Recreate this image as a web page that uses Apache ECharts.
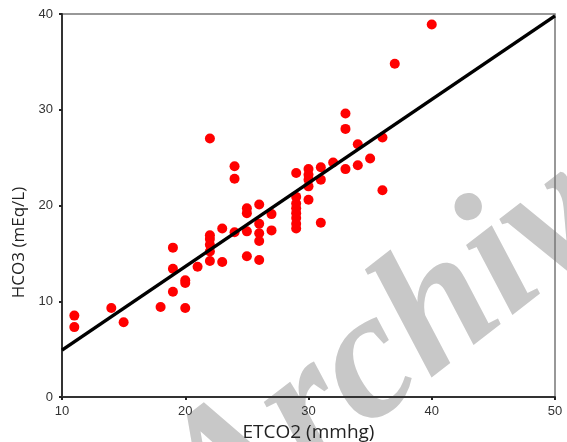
<!DOCTYPE html>
<html>
<head>
<meta charset="utf-8">
<script src="https://cdn.jsdelivr.net/npm/echarts@6/dist/echarts.min.js"></script>
<style>
  html, body { margin: 0; padding: 0; background: #fff; }
  #chart { width: 567px; height: 442px; }
</style>
</head>
<body>
<div id="chart"></div>
<script>
// ETCO2 (x) vs HCO3 (y) readings
const etco2 = [
  11, 11, 14, 15, 18,
  19, 19, 19, 20, 20, 20, 21,
  22, 22, 22, 22, 22, 22,
  23, 23, 24, 24, 24,
  25, 25, 25, 25,
  26, 26, 26, 26, 26,
  27, 27,
  29, 29, 29, 29, 29, 29, 29, 29,
  30, 30, 30, 30, 30,
  31, 31, 31, 32,
  33, 33, 33, 34, 34, 35, 36, 36, 37, 40
];
const hco3 = [
  8.5, 7.3, 9.3, 7.8, 9.4,
  15.6, 13.4, 11.0, 12.2, 11.9, 9.3, 13.6,
  27.0, 16.9, 16.5, 15.9, 15.2, 14.2,
  17.6, 14.1, 24.1, 22.8, 17.2,
  19.7, 19.2, 17.3, 14.7,
  20.1, 18.1, 17.1, 16.3, 14.3,
  19.1, 17.4,
  23.4, 20.9, 20.2, 19.7, 19.2, 18.7, 18.1, 17.6,
  23.8, 23.2, 22.7, 22.0, 20.6,
  24.0, 22.7, 18.2, 24.5,
  29.6, 28.0, 23.8, 26.4, 24.2, 24.9, 27.1, 21.6, 34.8, 38.9
];
// fitted line end points
const fitX = [10, 50];
const fitY = [4.9, 39.8];

const chart = echarts.init(document.getElementById('chart'));

const option = {
  animation: false,
  grid: {
    left: 62, right: 12, top: 14, bottom: 45,
    containLabel: false,
    outerBoundsMode: 'none',
    show: true,
    borderColor: '#777',
    borderWidth: 1.5
  },
  xAxis: {
    type: 'value',
    min: 10, max: 50, interval: 10,
    name: 'ETCO2 (mmhg)',
    nameLocation: 'middle',
    nameGap: 25,
    nameTextStyle: { fontFamily: 'Open Sans', fontSize: 19, color: '#222' },
    axisLine: { lineStyle: { color: '#333', width: 2 } },
    axisTick: { show: true, length: 3, lineStyle: { color: '#222', width: 2 } },
    axisLabel: { margin: 8, fontSize: 13, color: '#333', fontFamily: 'Liberation Sans' },
    splitLine: { show: false }
  },
  yAxis: {
    type: 'value',
    min: 0, max: 40, interval: 10,
    name: 'HCO3 (mEq/L)',
    nameLocation: 'middle',
    nameGap: 31,
    nameRotate: 90,
    nameTextStyle: { fontFamily: 'Open Sans', fontSize: 17, color: '#222', padding: [0, 74, 0, 0] },
    axisLine: { lineStyle: { color: '#333', width: 2 } },
    axisTick: { show: true, length: 3, lineStyle: { color: '#222', width: 2 } },
    axisLabel: { margin: 9, fontSize: 13, color: '#333', fontFamily: 'Liberation Sans' },
    splitLine: { show: false }
  },
  series: [
    {
      type: 'scatter',
      data: etco2.map((x, i) => [x, hco3[i]]),
      symbolSize: 10,
      itemStyle: { color: '#ff0000', opacity: 1 },
      z: 2
    },
    {
      type: 'line',
      data: fitX.map((x, i) => [x, fitY[i]]),
      symbol: 'none',
      lineStyle: { color: '#000', width: 3.5 },
      z: 3
    }
  ],
  graphic: {
    z: -1,
    elements: [
      {
        type: 'text',
        x: 240,
        y: 582,
        rotation: 0.66,
        z: -1,
        style: {
          text: 'Archive',
          fontFamily: 'Liberation Serif',
          fontStyle: 'italic',
          fontWeight: 'bold',
          fontSize: 182,
          fill: '#c8c8c8',
          textAlign: 'left',
          textVerticalAlign: 'bottom'
        }
      }
    ]
  }
};

chart.setOption(option);
</script>
</body>
</html>
